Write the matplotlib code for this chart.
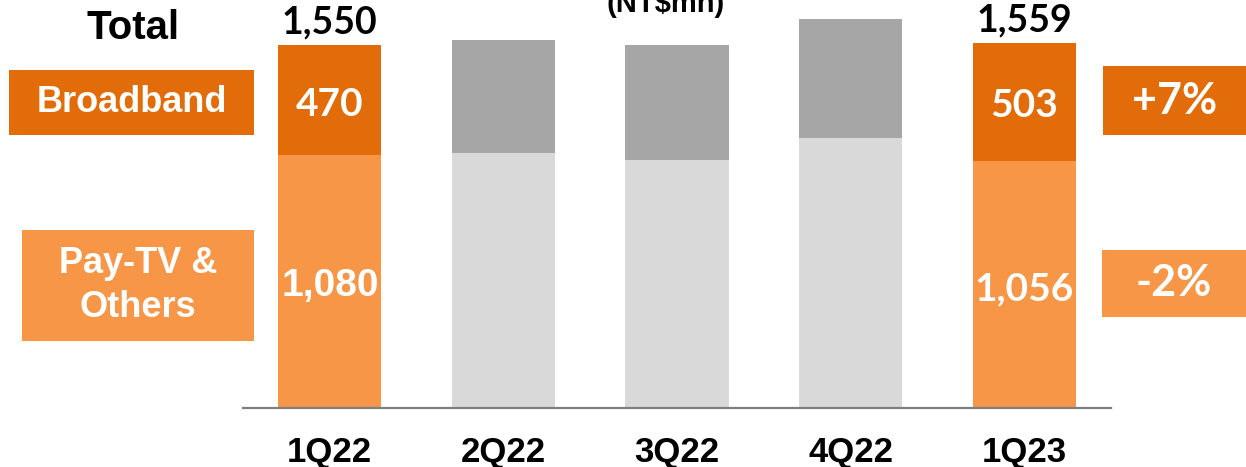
import matplotlib
matplotlib.use("Agg")
import matplotlib.pyplot as plt
from matplotlib.patches import Rectangle

quarters = ["1Q22", "2Q22", "3Q22", "4Q22", "1Q23"]
pay_tv = [1080, 1089, 1059, 1153, 1056]
broadband = [470, 482, 491, 508, 503]
highlight = [True, False, False, False, True]
broadband_change = "+7%"
pay_tv_change = "-2%"

DARK_ORANGE = "#E36C0A"
LIGHT_ORANGE = "#F79646"
DARK_GREY = "#A6A6A6"
LIGHT_GREY = "#D9D9D9"
ARIAL = "Liberation Sans"
CALIBRI = "Lato"

W, H = 1246, 467
fig = plt.figure(figsize=(W / 100, H / 100), dpi=100)
ax = fig.add_axes([243 / W, (H - 408) / H, (1111 - 243) / W, 408 / H])

x = list(range(len(quarters)))
totals = [p + b for p, b in zip(pay_tv, broadband)]
low_cols = [LIGHT_ORANGE if h else LIGHT_GREY for h in highlight]
top_cols = [DARK_ORANGE if h else DARK_GREY for h in highlight]
ax.bar(x, pay_tv, width=0.594, color=low_cols, zorder=2)
ax.bar(x, broadband, bottom=pay_tv, width=0.594, color=top_cols, zorder=2)

ax.set_xlim(-0.5, 4.5)
ax.set_ylim(0, 1742)
for s in ["top", "left", "right"]:
    ax.spines[s].set_visible(False)
ax.spines["bottom"].set_color("#7F7F7F")
ax.spines["bottom"].set_linewidth(1.6)
ax.spines["bottom"].set_zorder(3)
ax.set_yticks([])
ax.set_xticks(x)
ax.set_xticklabels(quarters, fontsize=25, fontweight="bold", family=ARIAL)
ax.tick_params(axis="x", length=0, pad=20)

# values on the highlighted bars
for i, h in enumerate(highlight):
    if not h:
        continue
    ax.annotate(f"{totals[i]:,}", (i, totals[i]), xytext=(0, 4), textcoords="offset points",
                ha="center", va="bottom", fontsize=27, fontweight="bold", family=CALIBRI)
    ax.annotate(f"{broadband[i]:,}", (i, pay_tv[i] + broadband[i] / 2), xytext=(0, -3),
                textcoords="offset points", ha="center", va="center",
                fontsize=28, fontweight="bold", color="white", family=CALIBRI)
    pfam = ARIAL if i == 0 else CALIBRI
    ax.annotate(f"{pay_tv[i]:,}", (i, pay_tv[i] / 2), xytext=(0, -3),
                textcoords="offset points", ha="center", va="center",
                fontsize=28, fontweight="bold", color="white", family=pfam)


def box(x0, y0, x1, y1, color, text, family, size):
    fig.add_artist(Rectangle((x0 / W, 1 - y1 / H), (x1 - x0) / W, (y1 - y0) / H,
                             transform=fig.transFigure, color=color, lw=0))
    fig.text((x0 + x1) / 2 / W, 1 - (y0 + y1) / 2 / H, text, ha="center", va="center",
             color="white", fontsize=size, fontweight="bold", family=family,
             linespacing=1.3)


fig.text(133 / W, 1 - 28 / H, "Total", ha="center", va="center", fontsize=29,
         fontweight="bold", family=ARIAL)
box(9, 70, 254, 135, DARK_ORANGE, "Broadband", ARIAL, 26)
box(22, 230, 254, 341, LIGHT_ORANGE, "Pay-TV &\nOthers", ARIAL, 26)
box(1103, 66, 1246, 135, DARK_ORANGE, broadband_change, CALIBRI, 31)
box(1102, 250, 1246, 317, LIGHT_ORANGE, pay_tv_change, CALIBRI, 31)

# unit label, cut off at the top edge like in the source slide
fig.text(666 / W, 1 - 12 / H, "(NT$mn)", ha="center", va="baseline", fontsize=21,
         fontweight="bold", family=ARIAL)

fig.savefig("out.png", dpi=100)
